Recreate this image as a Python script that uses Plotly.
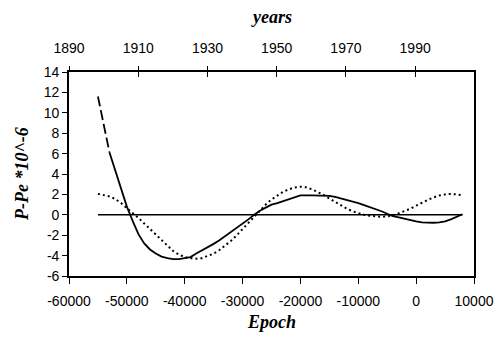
import plotly.graph_objects as go

# Epoch values (years) and P-Pe (x 10^-6)
epoch_dashed = [-55000, -54000, -53000]
ppe_dashed = [11.6, 8.8, 6.1]

epoch_solid = [-53000, -52000, -51000, -50000, -49000, -48000, -47000, -46000,
               -45000, -44000, -43000, -42000, -41000, -40000, -39000, -38000,
               -37000, -36000, -35000, -34000, -33000, -32000, -31000, -30000,
               -29000, -28000, -27000, -26000, -25000, -24000, -23000, -22000,
               -21000, -20000, -18000, -16000, -15000, -14000, -13000, -12000,
               -11000, -10000, -9000, -8000, -7000, -6000, -5000, -4000,
               -3000, -2000, -1000, 0, 1000, 2000, 3000, 4000,
               5000, 6000, 7000, 8000]
ppe_solid = [6.1, 4.3, 2.4, 0.8, -0.6, -1.9, -2.8, -3.4,
             -3.8, -4.1, -4.25, -4.35, -4.35, -4.25, -4.15, -3.8,
             -3.5, -3.15, -2.85, -2.5, -2.1, -1.7, -1.25, -0.85,
             -0.45, 0.0, 0.4, 0.7, 1.0, 1.15, 1.35, 1.55,
             1.75, 1.9, 1.9, 1.9, 1.85, 1.75, 1.6, 1.5,
             1.3, 1.15, 0.95, 0.75, 0.6, 0.35, 0.1, -0.12,
             -0.25, -0.4, -0.55, -0.65, -0.75, -0.78, -0.78, -0.75,
             -0.65, -0.45, -0.2, 0.05]

epoch_dotted = [-55000, -54000, -53000, -52000, -51000, -50000, -49000, -48000,
                -47000, -46000, -45000, -44000, -43000, -42000, -41000, -40000,
                -39000, -38000, -37000, -36000, -35000, -34000, -33000, -32000,
                -31000, -30000, -29000, -28000, -27000, -26000, -25000, -24000,
                -23000, -22000, -21000, -20000, -19000, -18000, -17000, -16000,
                -15000, -14000, -13000, -12000, -11000, -10000, -9000, -8000,
                -7000, -6000, -5000, -4000, -3000, -2000, -1000, 0,
                1000, 2000, 3000, 4000, 5000, 6000, 7000, 8000]
ppe_dotted = [2.05, 1.95, 1.8, 1.55, 1.15, 0.65, 0.2, -0.3,
              -0.85, -1.4, -2.0, -2.55, -3.05, -3.55, -3.9, -4.15,
              -4.25, -4.3, -4.25, -4.05, -3.8, -3.45, -3.0, -2.55,
              -2.0, -1.4, -0.75, -0.15, 0.45, 1.0, 1.5, 1.9,
              2.25, 2.5, 2.68, 2.75, 2.7, 2.5, 2.25, 1.95,
              1.6, 1.25, 0.9, 0.6, 0.35, 0.15, 0.0, -0.1,
              -0.18, -0.2, -0.15, -0.05, 0.15, 0.35, 0.6, 0.9,
              1.2, 1.45, 1.7, 1.9, 2.0, 2.05, 2.0, 1.9]

epoch_zero = [-55000, 8000]
ppe_zero = [0, 0]

# Axis ticks
epoch_ticks = [-60000, -50000, -40000, -30000, -20000, -10000, 0, 10000]
ppe_ticks = [-6, -4, -2, 0, 2, 4, 6, 8, 10, 12, 14]
year_ticks = [1890, 1910, 1930, 1950, 1970, 1990]
year_range = [1890, 2007]

tick_font = dict(family="Liberation Sans, Arial, sans-serif", size=14, color="black")
title_font = dict(family="Liberation Serif, Times New Roman, serif", size=18, color="black")

fig = go.Figure()
fig.add_trace(go.Scatter(x=epoch_zero, y=ppe_zero, mode="lines",
                         line=dict(color="black", width=1.6), hoverinfo="skip"))
fig.add_trace(go.Scatter(x=epoch_dotted, y=ppe_dotted, mode="lines",
                         line=dict(color="black", width=2, dash="2px,3px")))
fig.add_trace(go.Scatter(x=epoch_dashed, y=ppe_dashed, mode="lines",
                         line=dict(color="black", width=1.8, dash="10px,4px")))
fig.add_trace(go.Scatter(x=epoch_solid, y=ppe_solid, mode="lines",
                         line=dict(color="black", width=1.8)))
# invisible traces anchoring the top (years) axes
fig.add_trace(go.Scatter(x=year_range, y=[0, 0], xaxis="x2", mode="lines",
                         line=dict(width=0), opacity=0, hoverinfo="skip"))
fig.add_trace(go.Scatter(x=year_range, y=[0, 0], xaxis="x3", mode="lines",
                         line=dict(width=0), opacity=0, hoverinfo="skip"))

axis_common = dict(showgrid=False, zeroline=False, showline=True,
                   linecolor="black", linewidth=1.6, tickcolor="black",
                   tickwidth=1.4, tickfont=tick_font, automargin=False)

fig.update_layout(
    width=497, height=347,
    margin=dict(l=69, r=23, t=72, b=71),
    paper_bgcolor="white", plot_bgcolor="white",
    showlegend=False,
    xaxis=dict(range=[-60000, 10000], tickvals=epoch_ticks,
               ticktext=[str(v) for v in epoch_ticks], ticklabelstandoff=5,
               ticks="outside", ticklen=6, mirror=False, **axis_common),
    yaxis=dict(range=[-6, 14], tickvals=ppe_ticks,
               ticktext=[str(v) for v in ppe_ticks],
               ticks="outside", ticklen=5, mirror=True, **axis_common),
    xaxis2=dict(range=year_range, tickvals=year_ticks,
                ticktext=[str(v) for v in year_ticks], overlaying="x",
                side="top", anchor="y", ticks="outside", ticklen=4,
                ticklabelstandoff=8, **axis_common),
    xaxis3=dict(range=year_range, tickvals=year_ticks, overlaying="x",
                side="top", anchor="y", ticks="inside", ticklen=5,
                showticklabels=False, **axis_common),
    annotations=[
        dict(text="<b><i>years</i></b>", xref="paper", yref="paper", x=0.5, y=1,
             yshift=55, showarrow=False, font=title_font,
             xanchor="center", yanchor="middle"),
        dict(text="<b><i>Epoch</i></b>", xref="paper", yref="paper", x=0.5, y=0,
             yshift=-46, showarrow=False, font=title_font,
             xanchor="center", yanchor="middle"),
        dict(text="<b><i>P-Pe *10^-6</i></b>", xref="paper", yref="paper", x=0, y=0.5,
             xshift=-47, showarrow=False, font=title_font, textangle=-90,
             xanchor="center", yanchor="middle"),
    ],
)

fig.write_html("out.html")
